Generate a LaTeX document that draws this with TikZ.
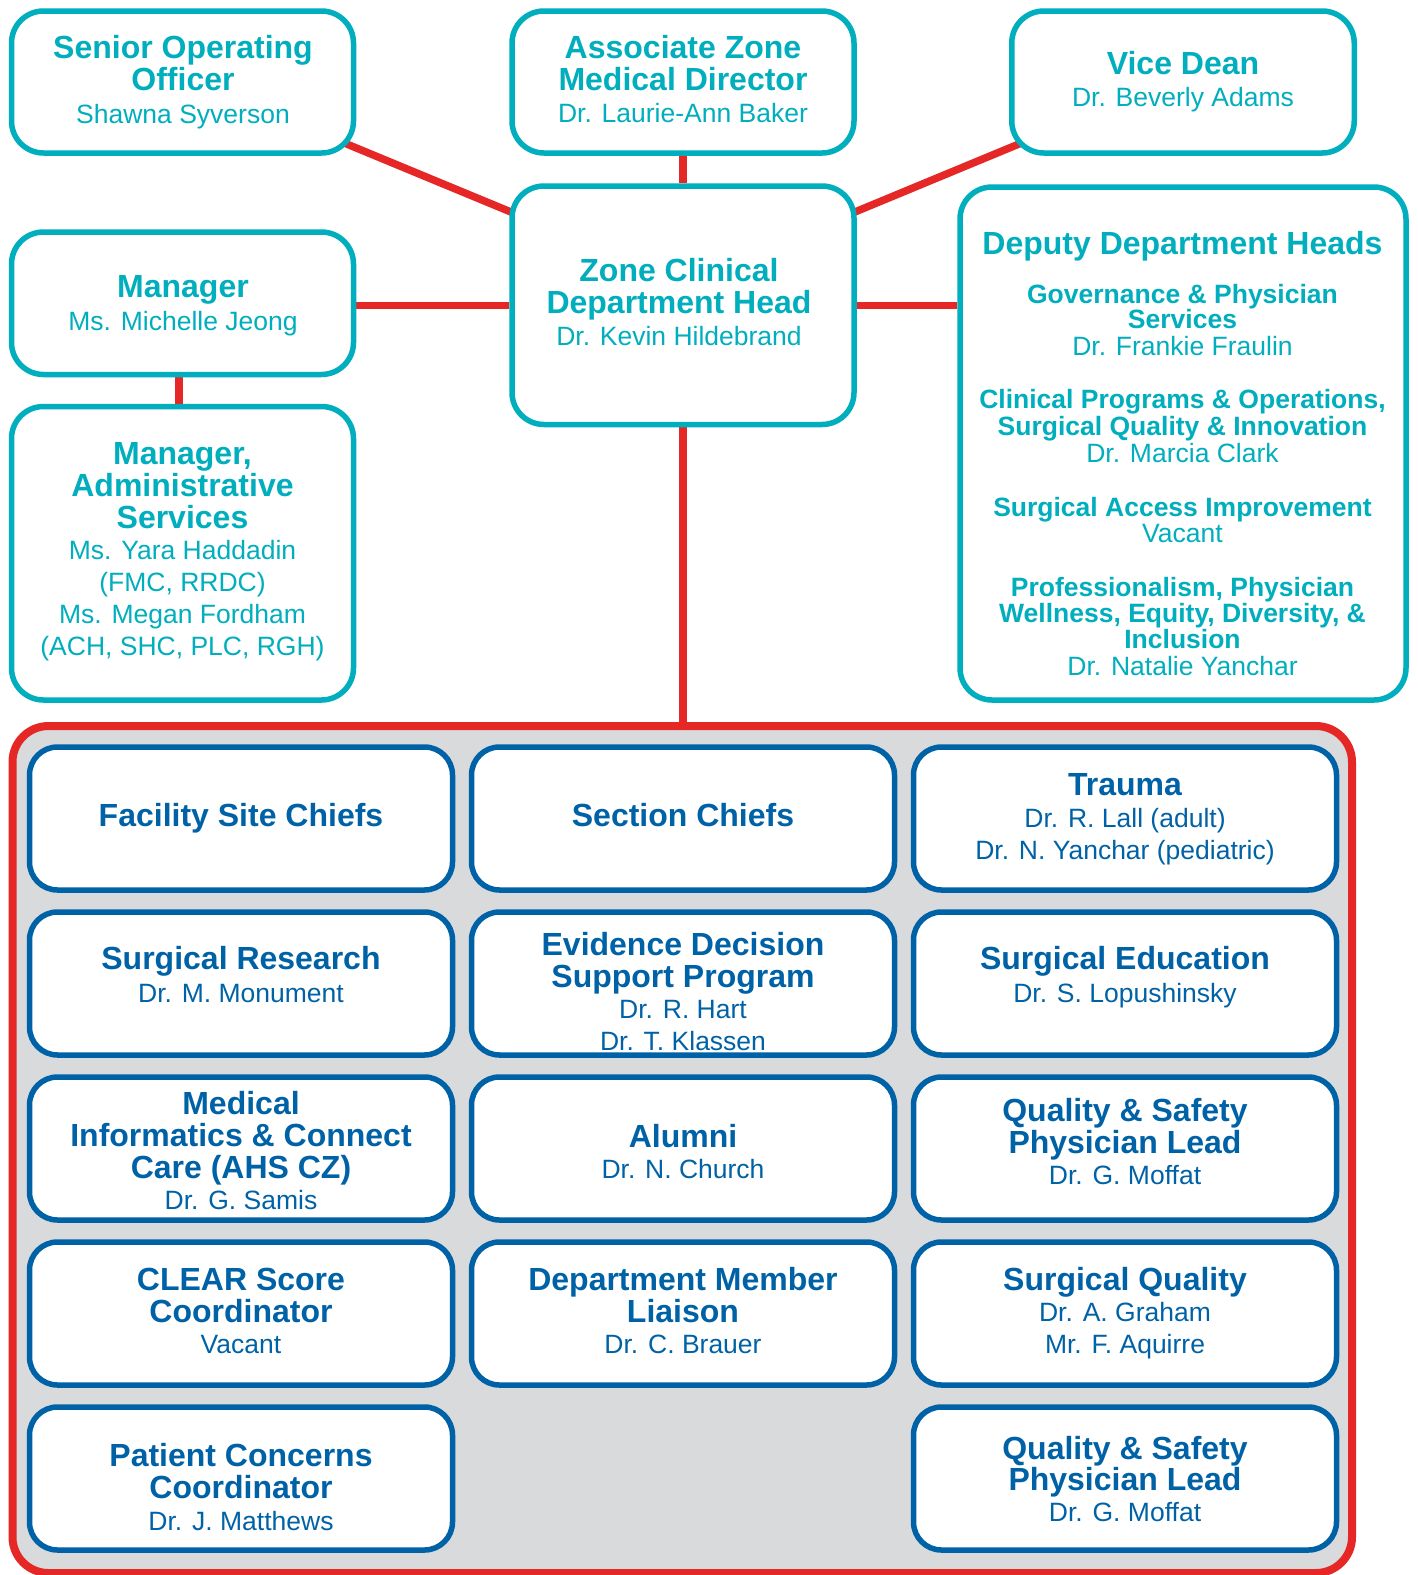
\documentclass[tikz,border=0pt]{standalone}
\usepackage{fontspec}
\setmainfont{Liberation Sans}
\usetikzlibrary{calc,backgrounds}
\definecolor{cteal}{RGB}{0,174,189}
\definecolor{cblue}{RGB}{0,98,166}
\definecolor{cred}{RGB}{229,39,38}
\definecolor{cgrey}{RGB}{217,218,220}
\newcommand\hb[1]{{\fontsize{32}{32}\selectfont\bfseries #1}}
\begin{document}
\begin{tikzpicture}[x=1pt,y=-1pt,
  tbox/.style={draw=cteal, line width=5.5pt, rounded corners=32pt, fill=white, minimum width=342pt, inner sep=0pt},
  bbox/.style={draw=cblue, line width=5.5pt, rounded corners=28pt, fill=white, minimum width=423pt, minimum height=143pt, inner sep=0pt},
  ttxt/.style={text=cteal, align=center, anchor=base, inner sep=0pt, font=\fontsize{26.5}{32}\selectfont},
  btxt/.style={text=cblue, align=center, anchor=base, inner sep=0pt, font=\fontsize{26.5}{32}\selectfont},
  dtxt/.style={text=cteal, align=center, anchor=base, inner sep=0pt, font=\fontsize{26.5}{26.8}\selectfont},
  link/.style={draw=cred, line width=7.5pt}]
\useasboundingbox (0,0) rectangle (1417,1575);

% group frame
\node[draw=cred, line width=8pt, fill=cgrey, rounded corners=36pt, minimum width=1339.5pt, minimum height=847pt, inner sep=0pt] (grp) at (682.25,1149.5) {};

% top boxes
\node[tbox, minimum height=142pt] (soo) at (182.5,82) {};
\node[tbox, minimum height=142pt] (az) at (683,82) {};
\node[tbox, minimum width=342.5pt, minimum height=142pt] (vd) at (1183,82) {};
\node[tbox, minimum height=238.5pt] (zc) at (683,305.25) {};
\node[tbox, minimum height=142.5pt] (mgr) at (182.5,303.25) {};
\node[tbox, minimum height=293.5pt] (adm) at (182.5,553.25) {};
\node[tbox, minimum width=446pt, minimum height=513pt] (dep) at (1183,443.5) {};

% connectors
\begin{scope}[on background layer]
\fill[white] (0,0) rectangle (1417,1575);
\draw[link] ($(soo.center)+(0,-6)$) -- ($(zc.center)+(0,-22)$);
\draw[link] ($(vd.center)+(0,-6)$) -- ($(zc.center)+(0,-22)$);
\draw[link] (az) -- (zc);
\draw[link] (zc.west) -- (zc.west -| mgr.east);
\draw[link] (zc.east) -- (zc.east -| dep.west);
\draw[link] ([xshift=-3.5pt]mgr.south) -- ([xshift=-3.5pt]adm.north);
\draw[link] (zc.south) -- (zc.south |- grp.north);
\end{scope}

% top texts (anchored at the baseline of the last line)
\node[ttxt] (soo-t) at (183,123) {\hb{Senior Operating}\\\hb{Officer}\\[1pt]Shawna Syverson};
\node[ttxt] (az-t) at (683,122.7) {\hb{Associate Zone}\\\hb{Medical Director}\\Dr. Laurie-Ann Baker};
\node[ttxt] (vd-t) at (1183,106) {\hb{Vice Dean}\\Dr. Beverly Adams};
\node[ttxt] (zc-t) at (679,345) {\hb{Zone Clinical}\\\hb{Department Head}\\Dr. Kevin Hildebrand};
\node[ttxt] (mgr-t) at (183,330) {\hb{Manager}\\[1pt]Ms. Michelle Jeong};
\node[ttxt] (adm-t) at (182.5,655) {\hb{Manager,}\\\hb{Administrative}\\\hb{Services}\\[-1pt]Ms. Yara Haddadin\\(FMC, RRDC)\\Ms. Megan Fordham\\[-0.5pt](ACH, SHC, PLC, RGH)};
\node[dtxt] (dep-t) at (1182.5,675) {{\fontsize{32}{32}\selectfont\bfseries Deputy Department Heads}\\[22.2pt]
{\bfseries Governance \& Physician}\\[-1.8pt]
{\bfseries Services}\\[0.2pt]
Dr. Frankie Fraulin\\[26.4pt]
{\bfseries Clinical Programs \& Operations,}\\[0.2pt]
{\bfseries Surgical Quality \& Innovation}\\
Dr. Marcia Clark\\[26.7pt]
{\bfseries Surgical Access Improvement}\\
Vacant\\[26.4pt]
{\bfseries Professionalism, Physician}\\[-0.3pt]
{\bfseries Wellness, Equity, Diversity, \&}\\[-0.8pt]
{\bfseries Inclusion}\\[-0.3pt]
Dr. Natalie Yanchar};

% bottom boxes
\node[bbox] (fsc) at (241,818.5) {};
\node[bbox] (sc) at (683,818.5) {};
\node[bbox] (tra) at (1125,818.5) {};
\node[bbox] (sr) at (241,983.5) {};
\node[bbox] (edsp) at (683,983.5) {};
\node[bbox] (se) at (1125,983.5) {};
\node[bbox] (mi) at (241,1148.5) {};
\node[bbox] (alu) at (683,1148.5) {};
\node[bbox] (qs1) at (1125,1148.5) {};
\node[bbox] (clr) at (241,1313.5) {};
\node[bbox] (dml) at (683,1313.5) {};
\node[bbox] (sq) at (1125,1313.5) {};
\node[bbox] (pcc) at (241,1478.5) {};
\node[bbox] (qs2) at (1125,1478.5) {};

% bottom texts (anchored at the baseline of the last line)
\node[btxt] (fsc-t) at (241,826) {\hb{Facility Site Chiefs}};
\node[btxt] (sc-t) at (683,826) {\hb{Section Chiefs}};
\node[btxt] (tra-t) at (1125,859) {\hb{Trauma}\\Dr. R. Lall (adult)\\Dr. N. Yanchar (pediatric)};
\node[btxt] (sr-t) at (241,1002.2) {\hb{Surgical Research}\\[0.4pt]Dr. M. Monument};
\node[btxt] (edsp-t) at (683,1050) {\hb{Evidence Decision}\\\hb{Support Program}\\[-1pt]Dr. R. Hart\\Dr. T. Klassen};
\node[btxt] (se-t) at (1125,1002.2) {\hb{Surgical Education}\\[0.4pt]Dr. S. Lopushinsky};
\node[btxt] (mi-t) at (241,1209.5) {\hb{Medical}\\\hb{Informatics \& Connect}\\\hb{Care (AHS CZ)}\\[-1pt]Dr. G. Samis};
\node[btxt] (alu-t) at (683,1178.2) {\hb{Alumni}\\[-1pt]Dr. N. Church};
\node[btxt] (qs1-t) at (1125,1184.5) {\hb{Quality \& Safety}\\\hb{Physician Lead}\\[-1pt]Dr. G. Moffat};
\node[btxt] (clr-t) at (241,1353) {\hb{CLEAR Score}\\\hb{Coordinator}\\[-1pt]Vacant};
\node[btxt] (dml-t) at (683,1353) {\hb{Department Member}\\\hb{Liaison}\\[-1pt]Dr. C. Brauer};
\node[btxt] (sq-t) at (1125,1353) {\hb{Surgical Quality}\\[-1pt]Dr. A. Graham\\Mr. F. Aquirre};
\node[btxt] (pcc-t) at (241,1530) {\hb{Patient Concerns}\\\hb{Coordinator}\\Dr. J. Matthews};
\node[btxt] (qs2-t) at (1125,1521.5) {\hb{Quality \& Safety}\\[-1pt]\hb{Physician Lead}\\[-1pt]Dr. G. Moffat};
\end{tikzpicture}
\end{document}
